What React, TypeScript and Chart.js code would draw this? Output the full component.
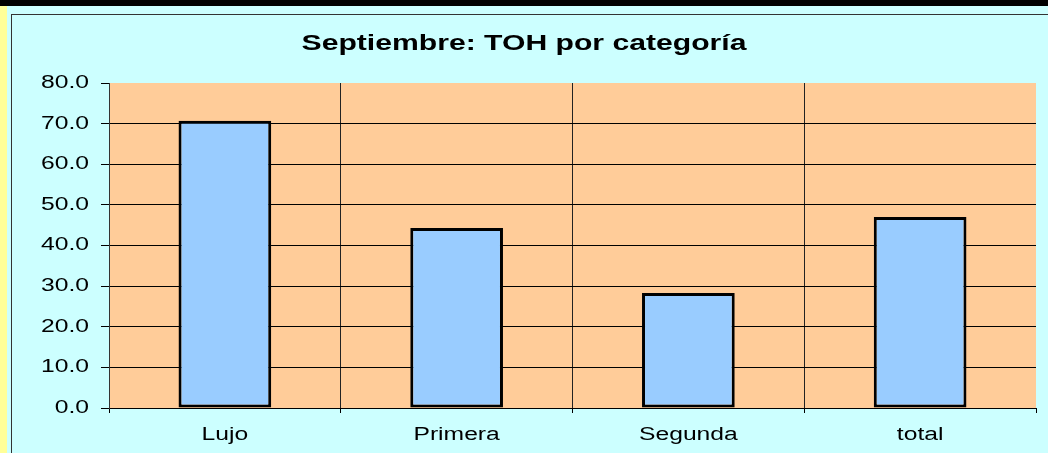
import React, { useEffect, useRef } from "react";
import { Chart, registerables } from "chart.js";

Chart.register(...registerables);

const categories = ["Lujo", "Primera", "Segunda", "total"];
const values = [70.7, 44.3, 28.3, 47.0];
const yTicks = [0, 10, 20, 30, 40, 50, 60, 70, 80];
const titleText = "Septiembre: TOH por categoría";

const FONT = "'Liberation Sans', Arial, Helvetica, sans-serif";
const SX = 1.37; // the reference text is drawn horizontally stretched

function stretchText(ctx: any) {
  if (ctx.__stretched) return;
  ctx.__stretched = true;
  const fill = ctx.fillText.bind(ctx);
  const measure = ctx.measureText.bind(ctx);
  ctx.fillText = (text: string, x: number, y: number, maxWidth?: number) => {
    ctx.save();
    ctx.translate(x, y);
    ctx.scale(SX, 1);
    if (maxWidth === undefined || maxWidth === null) fill(text, 0, 0);
    else fill(text, 0, 0, maxWidth / SX);
    ctx.restore();
  };
  ctx.measureText = (text: string) => {
    const m = measure(text);
    return {
      width: m.width * SX,
      actualBoundingBoxAscent: m.actualBoundingBoxAscent,
      actualBoundingBoxDescent: m.actualBoundingBoxDescent,
      actualBoundingBoxLeft: m.actualBoundingBoxLeft * SX,
      actualBoundingBoxRight: m.actualBoundingBoxRight * SX,
      fontBoundingBoxAscent: m.fontBoundingBoxAscent,
      fontBoundingBoxDescent: m.fontBoundingBoxDescent,
    };
  };
}

const plotBg = {
  id: "plotBg",
  beforeDraw(chart: any) {
    const { ctx, chartArea } = chart;
    ctx.save();
    ctx.fillStyle = "#FFCC99";
    ctx.fillRect(chartArea.left, chartArea.top, chartArea.right - chartArea.left, chartArea.bottom - chartArea.top);
    ctx.restore();
  },
};

export default function App() {
  const ref = useRef<HTMLCanvasElement>(null);

  useEffect(() => {
    const canvas = ref.current!;
    const ctx = canvas.getContext("2d")!;
    stretchText(ctx);
    const chart = new Chart(canvas, {
      type: "bar",
      data: {
        labels: categories,
        datasets: [
          {
            data: values,
            backgroundColor: "#99CCFF",
            borderColor: "#000000",
            borderWidth: 3,
            borderSkipped: false,
            barPercentage: 1,
            categoryPercentage: 0.4,
          },
        ],
      },
      options: {
        responsive: false,
        animation: false,
        devicePixelRatio: 1,
        layout: { padding: { left: 0, right: 28, top: 0, bottom: 0 } },
        plugins: {
          legend: { display: false },
          tooltip: { enabled: false },
          title: {
            display: true,
            text: titleText,
            color: "#000",
            font: { family: FONT, size: 22, weight: "bold" },
            padding: { top: 15.4, bottom: 26.2 },
          },
        },
        scales: {
          x: {
            type: "category",
            offset: true,
            grid: {
              offset: true,
              color: (c: any) => (c.type === "scale" ? "rgba(0,0,0,0)" : c.index === 0 ? "#333" : "#222"),
              tickColor: "#000",
              tickLength: 5,
              lineWidth: 1,
            },
            border: { display: true, color: "#000", width: 1 },
            ticks: {
              color: "#000",
              font: { family: FONT, size: 18 },
              padding: 11,
              maxRotation: 0,
              autoSkip: false,
            },
            afterFit: (s: any) => {
              s.height = 45;
            },
          },
          y: {
            min: 0,
            max: 80,
            afterBuildTicks: (s: any) => {
              s.ticks = yTicks.map((v) => ({ value: v }));
            },
            grid: {
              color: (c: any) => (c.tick && c.tick.value === 80 ? "rgba(0,0,0,0)" : "#000"),
              tickColor: "#000",
              tickLength: 8,
              lineWidth: 1,
            },
            border: { display: true, color: "#333", width: 1 },
            ticks: {
              color: "#000",
              font: { family: FONT, size: 18 },
              padding: 12,
              callback: (v: any) => Number(v).toFixed(1),
            },
            afterFit: (s: any) => {
              s.width = 97;
            },
          },
        },
      },
      plugins: [plotBg],
    });
    return () => chart.destroy();
  }, []);

  return (
    <div
      style={{
        position: "fixed",
        left: 0,
        top: 0,
        width: 1048,
        height: 453,
        background: "#CCFFFF",
        overflow: "hidden",
      }}
    >
      <div style={{ position: "absolute", left: 0, top: 0, width: 1048, height: 6, background: "#000" }} />
      <div style={{ position: "absolute", left: 0, top: 6, width: 7, height: 447, background: "#FFFF99" }} />
      <div
        style={{
          position: "absolute",
          left: 11,
          top: 14,
          width: 1100,
          height: 500,
          borderLeft: "1px solid #333",
          borderTop: "1px solid #333",
        }}
      />
      <canvas
        ref={ref}
        width={1052}
        height={438}
        style={{ position: "absolute", left: 12, top: 15, width: 1052, height: 438, display: "block" }}
      />
    </div>
  );
}
